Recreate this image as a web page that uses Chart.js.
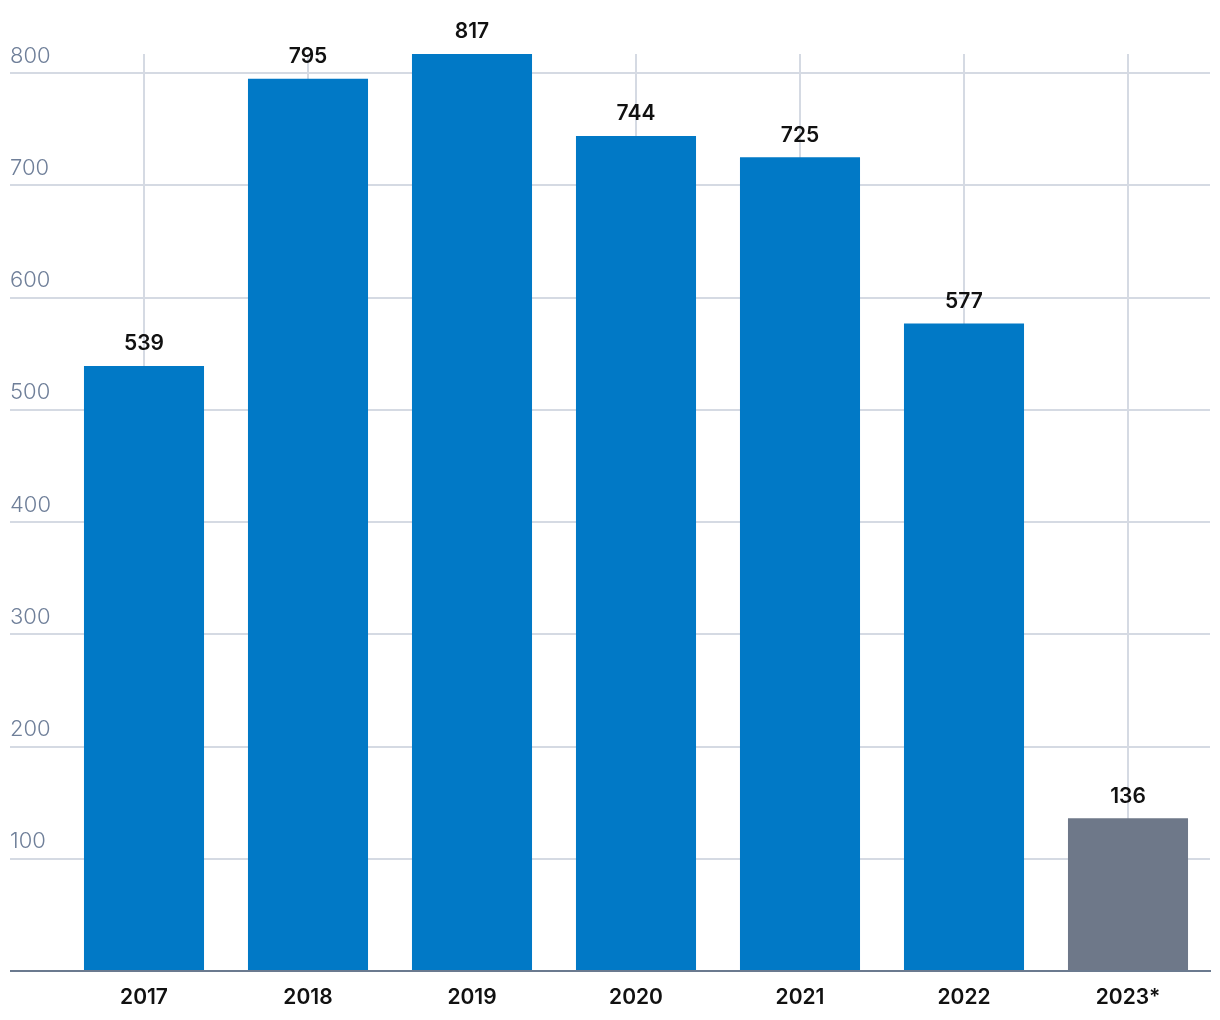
<!DOCTYPE html>
<html>
<head>
<meta charset="utf-8">
<script src="https://cdn.jsdelivr.net/npm/chart.js@4/dist/chart.umd.min.js"></script>
<style>
    body { margin: 0; background: #fff; }
    #wrap { width: 1220px; height: 1020px; }
</style>
</head>
<body>
<div id="wrap"><canvas id="chart" width="1220" height="1020"></canvas></div>
<script>
const years = ['2017', '2018', '2019', '2020', '2021', '2022', '2023*'];
const counts = [539, 795, 817, 744, 725, 577, 136];
const barColors = ['#0179c6', '#0179c6', '#0179c6', '#0179c6', '#0179c6', '#0179c6', '#6e7889'];
const yTicks = [100, 200, 300, 400, 500, 600, 700, 800];

const FONT = 'Inter, "Noto Sans", sans-serif';
const GRID = '#d5dae3';
const BASE = '#6b7a8f';

// value above every bar
const valueLabels = {
    id: 'valueLabels',
    afterDatasetsDraw(chart) {
        const ctx = chart.ctx;
        const meta = chart.getDatasetMeta(0);
        ctx.save();
        ctx.font = '600 21px ' + FONT;
        ctx.fillStyle = '#111';
        ctx.textAlign = 'center';
        ctx.textBaseline = 'middle';
        meta.data.forEach((bar, i) => {
            ctx.fillText(counts[i], bar.x, bar.y - 22);
        });
        ctx.restore();
    }
};

new Chart(document.getElementById('chart').getContext('2d'), {
    type: 'bar',
    data: {
        labels: years,
        datasets: [{
            data: counts,
            backgroundColor: barColors,
            barPercentage: 0.732,
            categoryPercentage: 1
        }]
    },
    options: {
        responsive: false,
        animation: false,
        layout: { padding: { top: 54, left: 10, right: 10, bottom: 0 } },
        plugins: { legend: { display: false }, tooltip: { enabled: false } },
        scales: {
            x: {
                grid: { offset: false, color: GRID, lineWidth: 2, drawTicks: false },
                border: { display: true, color: BASE, width: 2 },
                ticks: { color: '#111', font: { family: FONT, size: 21, weight: 600 }, padding: 14 },
                afterFit(scale) { scale.height = 49; }
            },
            y: {
                min: 0,
                max: Math.max(...counts),
                afterBuildTicks(scale) {
                    scale.ticks = [0].concat(yTicks).map(v => ({ value: v }));
                },
                grid: {
                    color: c => c.tick && c.tick.value === 0 ? BASE : GRID,
                    lineWidth: 2,
                    tickLength: 52
                },
                border: { display: false },
                ticks: {
                    color: '#6f7f99',
                    font: { family: FONT, size: 22, weight: 300 },
                    crossAlign: 'far',
                    labelOffset: -17,
                    callback: v => v === 0 ? '' : v
                },
                afterFit(scale) {
                    scale.width = 52;
                    scale.paddingTop = 0;
                    scale.paddingBottom = 0;
                }
            }
        }
    },
    plugins: [valueLabels]
});
</script>
</body>
</html>
